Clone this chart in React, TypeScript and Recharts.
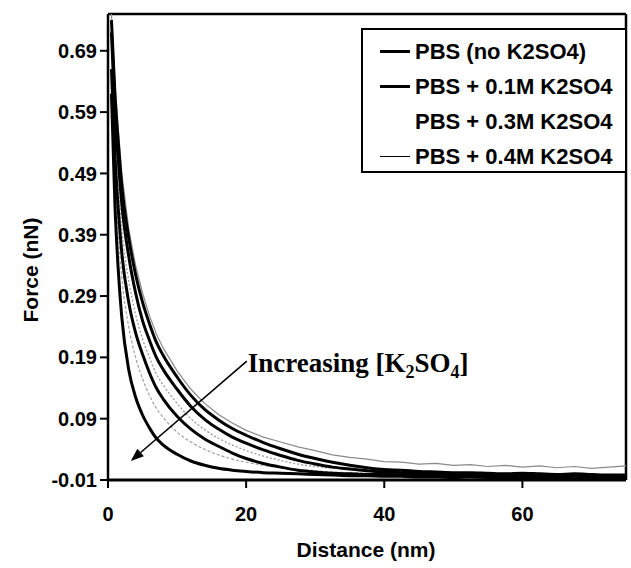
import React from "react";
import {
  Label,
  Line,
  LineChart,
  ReferenceLine,
  XAxis,
  YAxis,
} from "recharts";

const distance = [
  0.5, 1, 1.5, 2, 3, 4, 5, 6, 7, 8, 10, 12, 14, 16, 18, 20, 22.5, 25, 27.5, 30,
  32.5, 35, 37.5, 40, 42.5, 45, 47.5, 50, 52.5, 55, 57.5, 60, 62.5, 65, 67.5,
  70, 72.5, 75,
];

// fitted curves, force in nN
const pbsOnly = [
  0.74, 0.62, 0.54, 0.47, 0.385, 0.325, 0.28, 0.245, 0.215, 0.193, 0.158,
  0.128, 0.105, 0.088, 0.074, 0.063, 0.051, 0.041, 0.032, 0.025, 0.019, 0.014,
  0.01, 0.007, 0.006, 0.004, 0.003, 0.002, 0.002, 0.001, 0, 0.001, 0, -0.001,
  0, -0.001, -0.002, -0.002,
];
const pbs01 = [
  0.72, 0.59, 0.51, 0.44, 0.355, 0.295, 0.25, 0.218, 0.19, 0.17, 0.138, 0.11,
  0.089, 0.073, 0.06, 0.05, 0.039, 0.03, 0.022, 0.016, 0.011, 0.008, 0.005,
  0.003, 0.002, 0.001, 0, 0, -0.001, -0.001, -0.002, -0.001, -0.002, -0.003,
  -0.002, -0.003, -0.003, -0.004,
];
const pbs03 = [
  0.66, 0.52, 0.43, 0.36, 0.28, 0.23, 0.195, 0.165, 0.14, 0.122, 0.094, 0.073,
  0.057, 0.045, 0.034, 0.025, 0.017, 0.011, 0.006, 0.003, 0.001, 0, -0.001,
  -0.001, -0.002, -0.002, -0.003, -0.003, -0.003, -0.004, -0.004, -0.003,
  -0.004, -0.005, -0.004, -0.005, -0.006, -0.006,
];
const pbs04 = [
  0.62, 0.44, 0.33, 0.255, 0.17, 0.125, 0.096, 0.075, 0.058, 0.047, 0.032,
  0.021, 0.014, 0.009, 0.006, 0.004, 0.002, 0.001, 0, -0.001, -0.002, -0.003,
  -0.003, -0.004, -0.004, -0.005, -0.005, -0.006, -0.005, -0.006, -0.007,
  -0.006, -0.007, -0.007, -0.008, -0.007, -0.008, -0.008,
];

// raw (grey) traces behind the fits
const rawUpper = [
  0.75, 0.64, 0.56, 0.49, 0.4, 0.34, 0.295, 0.258, 0.228, 0.205, 0.168, 0.138,
  0.115, 0.097, 0.083, 0.071, 0.06, 0.052, 0.044, 0.038, 0.031, 0.027, 0.024,
  0.02, 0.019, 0.016, 0.017, 0.014, 0.015, 0.012, 0.014, 0.011, 0.013, 0.01,
  0.012, 0.009, 0.011, 0.013,
];
const rawMid = [
  0.7, 0.56, 0.47, 0.4, 0.315, 0.26, 0.22, 0.19, 0.163, 0.145, 0.115, 0.09,
  0.072, 0.058, 0.047, 0.038, 0.029, 0.022, 0.016, 0.012, 0.009, 0.007, 0.005,
  0.004, 0.003, 0.002, 0.002, 0.001, 0.001, 0, 0.001, 0, 0, -0.001, 0, -0.001,
  -0.001, -0.002,
];
const rawLow = [
  0.64, 0.49, 0.39, 0.32, 0.24, 0.19, 0.155, 0.128, 0.107, 0.092, 0.068, 0.052,
  0.04, 0.031, 0.024, 0.019, 0.014, 0.01, 0.007, 0.005, 0.003, 0.002, 0.001, 0,
  -0.001, -0.001, -0.002, -0.002, -0.002, -0.003, -0.003, -0.002, -0.003,
  -0.004, -0.003, -0.004, -0.004, -0.005,
];

const legendLabels = [
  "PBS (no K2SO4)",
  "PBS + 0.1M K2SO4",
  "PBS + 0.3M K2SO4",
  "PBS + 0.4M K2SO4",
];
const xTicks = [0, 20, 40, 60];
const yTicks = [-0.01, 0.09, 0.19, 0.29, 0.39, 0.49, 0.59, 0.69];

const rows = distance.map((d, i) => ({
  distance: d,
  pbsOnly: pbsOnly[i],
  pbs01: pbs01[i],
  pbs03: pbs03[i],
  pbs04: pbs04[i],
  rawUpper: rawUpper[i],
  rawMid: rawMid[i],
  rawLow: rawLow[i],
}));

const sans = "'Liberation Sans', Arial, sans-serif";
const serif = "'Liberation Serif', 'Times New Roman', serif";
const tickStyle = { fill: "#000", fontSize: 20, fontWeight: 700, fontFamily: sans };

// legend sample widths; the 0.3M entry shows no sample in the original
const sampleWidth = [3, 2.5, 0, 1.5];

function LegendBox() {
  return (
    <div
      style={{
        position: "absolute",
        left: 361,
        top: 28,
        width: 266,
        height: 145,
        border: "2px solid #000",
        background: "#fff",
        paddingTop: 4,
        boxSizing: "border-box",
        fontFamily: sans,
        fontWeight: 700,
        fontSize: 22,
        color: "#000",
      }}
    >
      {legendLabels.map((name, i) => (
        <div
          key={name}
          style={{ height: 35, display: "flex", alignItems: "center", whiteSpace: "nowrap" }}
        >
          <span
            style={{
              display: "inline-block",
              marginLeft: 17,
              width: 30,
              height: sampleWidth[i],
              background: "#000",
              marginRight: 5,
              visibility: sampleWidth[i] ? "visible" : "hidden",
            }}
          />
          {name}
        </div>
      ))}
    </div>
  );
}

function Arrow(p: any) {
  const { x1, y1, x2, y2 } = p;
  const len = Math.hypot(x2 - x1, y2 - y1);
  const ux = (x2 - x1) / len;
  const uy = (y2 - y1) / len;
  const bx = x2 - ux * 13;
  const by = y2 - uy * 13;
  const head = `${x2},${y2} ${bx - uy * 5},${by + ux * 5} ${bx + uy * 5},${by - ux * 5}`;
  return (
    <g>
      <line x1={x1} y1={y1} x2={bx} y2={by} stroke="#000" strokeWidth={1.6} />
      <polygon points={head} fill="#000" />
      <text x={x1 + 1} y={y1 + 11} fontFamily={serif} fontWeight={700} fontSize={27} fill="#000">
        Increasing [K
        <tspan dy={6} fontSize={18}>2</tspan>
        <tspan dy={-6}>SO</tspan>
        <tspan dy={6} fontSize={18}>4</tspan>
        <tspan dy={-6}>]</tspan>
      </text>
    </g>
  );
}

export default function App() {
  return (
    <div style={{ position: "absolute", left: 0, top: 0, width: 631, height: 568, background: "#fff" }}>
      <LineChart width={631} height={568} data={rows} margin={{ top: 14, right: 5, left: 0, bottom: 0 }}>
        <XAxis
          dataKey="distance"
          type="number"
          domain={[0, 75]}
          ticks={xTicks}
          height={88}
          tickSize={8}
          tickMargin={19}
          tick={tickStyle}
          axisLine={{ stroke: "#000", strokeWidth: 3 }}
          tickLine={{ stroke: "#000", strokeWidth: 2 }}
          allowDataOverflow
        >
          <Label
            content={() => (
              <text x={366} y={557} textAnchor="middle" fontFamily={sans} fontWeight={700} fontSize={21} fill="#000">
                Distance (nm)
              </text>
            )}
          />
        </XAxis>
        <YAxis
          type="number"
          domain={[-0.01, 0.75]}
          ticks={yTicks}
          width={108}
          tickSize={8}
          tickMargin={3}
          tick={tickStyle}
          tickFormatter={(v: number) => v.toFixed(2)}
          axisLine={{ stroke: "#000", strokeWidth: 2.5 }}
          tickLine={{ stroke: "#000", strokeWidth: 2 }}
          allowDataOverflow
        >
          <Label
            content={() => (
              <text
                x={38}
                y={270}
                transform="rotate(-90 38 270)"
                textAnchor="middle"
                fontFamily={sans}
                fontWeight={700}
                fontSize={21}
                fill="#000"
              >
                Force (nN)
              </text>
            )}
          />
        </YAxis>
        <ReferenceLine y={0.75} stroke="#000" strokeWidth={2.5} />
        <ReferenceLine x={75} stroke="#000" strokeWidth={2.5} />
        <Line dataKey="rawUpper" type="linear" stroke="#8a8a8a" strokeWidth={1.2} dot={false} legendType="none" isAnimationActive={false} />
        <Line dataKey="rawMid" type="monotone" stroke="#9a9a9a" strokeWidth={1.3} strokeDasharray="2 2" dot={false} legendType="none" isAnimationActive={false} />
        <Line dataKey="rawLow" type="monotone" stroke="#a0a0a0" strokeWidth={1.2} strokeDasharray="3 2" dot={false} legendType="none" isAnimationActive={false} />
        <Line dataKey="pbsOnly" name={legendLabels[0]} type="monotone" stroke="#000" strokeWidth={3} dot={false} isAnimationActive={false} />
        <Line dataKey="pbs01" name={legendLabels[1]} type="monotone" stroke="#000" strokeWidth={3} dot={false} isAnimationActive={false} />
        <Line dataKey="pbs03" name={legendLabels[2]} type="monotone" stroke="#000" strokeWidth={3} dot={false} isAnimationActive={false} />
        <Line dataKey="pbs04" name={legendLabels[3]} type="monotone" stroke="#000" strokeWidth={3} dot={false} isAnimationActive={false} />
        <ReferenceLine
          segment={[
            { x: 20.1, y: 0.184 },
            { x: 3.3, y: 0.021 },
          ]}
          shape={Arrow}
          ifOverflow="visible"
        />
      </LineChart>
      <LegendBox />
    </div>
  );
}
